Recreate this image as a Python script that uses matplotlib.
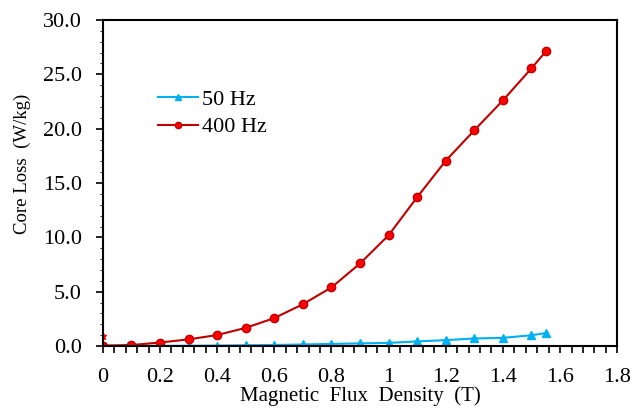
import matplotlib.pyplot as plt
from matplotlib.ticker import MultipleLocator, FormatStrFormatter, FuncFormatter

plt.rcParams['font.family'] = ['Liberation Serif', 'DejaVu Serif']

flux = [0, 0.1, 0.2, 0.3, 0.4, 0.5, 0.6, 0.7, 0.8, 0.9, 1.0, 1.1, 1.2, 1.3, 1.4, 1.5, 1.55]
loss_50 = [0, 0.01, 0.02, 0.03, 0.05, 0.08, 0.1, 0.15, 0.2, 0.25, 0.3, 0.43, 0.55, 0.7, 0.76, 1.0, 1.2]
loss_400 = [0.05, 0.1, 0.33, 0.62, 1.02, 1.68, 2.58, 3.85, 5.4, 7.6, 10.2, 13.7, 17.05, 19.85, 22.6, 25.55, 27.1]

fig = plt.figure(figsize=(6.35, 4.15), dpi=100)
ax = fig.add_axes([0.162, 0.166, 0.81, 0.786])

ax.plot(flux, loss_50, color='#00B0F0', marker='^', markersize=6, linewidth=1.5, label='50 Hz')
ax.plot(flux, loss_400, color='#C00000', marker='o', markersize=6, markerfacecolor='#FF0000',
        markeredgecolor='#C00000', linewidth=1.5, label='400 Hz')
# stray mark near the origin
ax.plot([0], [0.95], marker='*', color='#FF0000', markersize=5, linestyle='none')

ax.set_xlim(0, 1.8)
ax.set_ylim(0, 30)
ax.xaxis.set_major_locator(MultipleLocator(0.2))
ax.xaxis.set_minor_locator(MultipleLocator(0.04))
ax.yaxis.set_major_locator(MultipleLocator(5))
ax.yaxis.set_minor_locator(MultipleLocator(1))
ax.yaxis.set_major_formatter(FormatStrFormatter('%.1f'))
ax.xaxis.set_major_formatter(FuncFormatter(lambda v, p: '%g' % round(v, 2)))

ax.tick_params(axis='both', which='major', labelsize=16, direction='out', length=5, width=1.2)
ax.tick_params(axis='x', which='major', pad=11)
ax.tick_params(axis='y', which='major', pad=10)
ax.tick_params(axis='x', which='minor', direction='out', length=5, width=1.2)
ax.tick_params(axis='y', which='minor', direction='out', length=2.5, width=0.6)
for s in ax.spines.values():
    s.set_linewidth(1.5)

ax.set_xlabel('Magnetic  Flux  Density  (T)', fontsize=15, labelpad=-1)
ax.set_ylabel('Core Loss  (W/kg)', fontsize=13.5)
ax.yaxis.set_label_coords(-0.14, 0.56)

ax.legend(loc='upper left', bbox_to_anchor=(0.069, 0.848), frameon=False, fontsize=16,
          handlelength=1.8, handletextpad=0.15, labelspacing=0.3, markerscale=0.75)

fig.savefig('out.png', dpi=100)
